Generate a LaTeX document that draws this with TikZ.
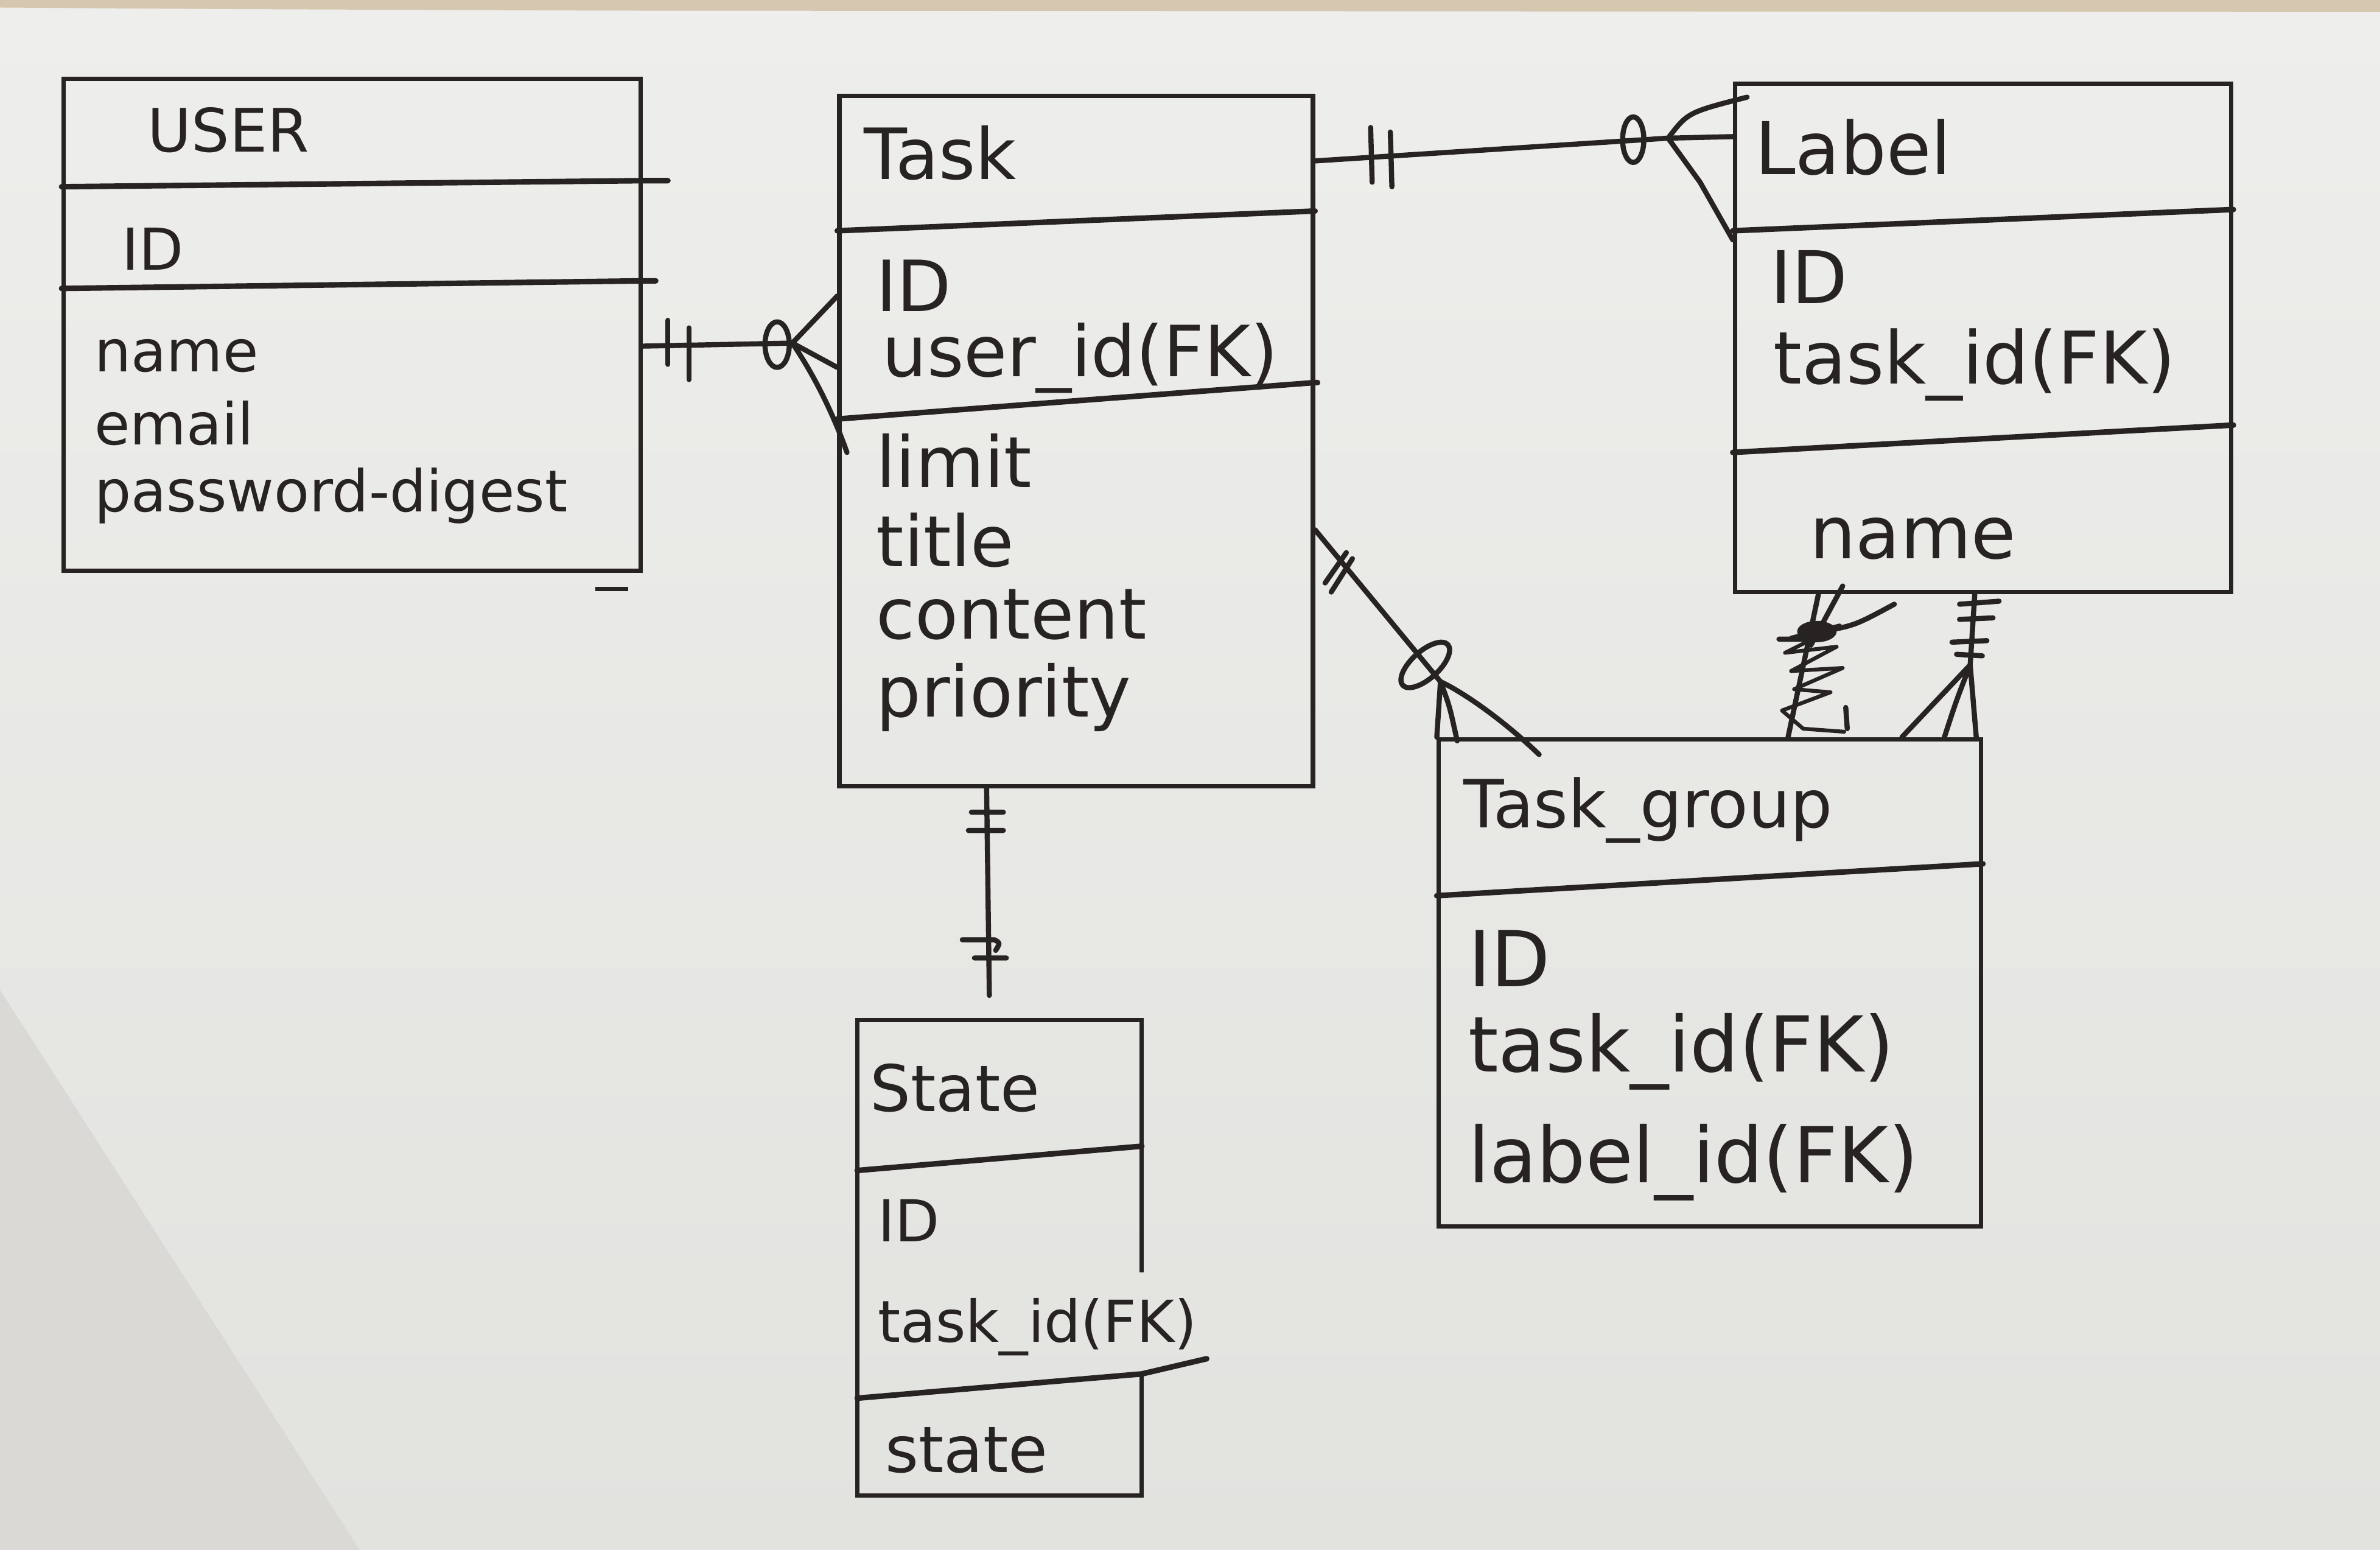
\documentclass[tikz,border=0pt]{standalone}
\usepackage{fontspec}
\setmainfont{DejaVu Sans}
\usetikzlibrary{fit}

\definecolor{ink}{RGB}{40,35,35}
\definecolor{papertop}{RGB}{238,238,236}
\definecolor{paperbottom}{RGB}{226,226,223}
\definecolor{paperfold}{RGB}{218,217,213}
\definecolor{desk}{RGB}{214,200,176}

\tikzset{
	edge/.style={draw=ink, line width=2pt},
	entity/.style={edge, inner sep=0pt},
	divider/.style={draw=ink, line width=2.6pt, line cap=round},
	field/.style={font=\fontsize{#1}{#1}\selectfont, text=ink, anchor=base west, inner sep=0pt},
	rel/.style={draw=ink, line width=2.4pt, line cap=round, line join=round},
}

\begin{document}
\begin{tikzpicture}[x=0.02494cm, y=-0.02494cm]
	% paper
	\shade[top color=papertop, bottom color=paperbottom] (0,0) rectangle (1568,1021);
	\fill[desk] (0,0) -- (1568,0) -- (1568,8) -- (400,7) -- (150,6) -- (0,5) -- cycle;
	\fill[paperfold] (0,652) -- (237,1021) -- (0,1021) -- cycle;
	\useasboundingbox (0,0) rectangle (1568,1021);

	% entities
	\node[entity, fit={(42,52) (422,376)}] (user) {};
	\node[entity, fit={(553,63) (865,518)}] (task) {};
	\node[entity, fit={(1143,55) (1470,390)}] (label) {};
	\node[entity, fit={(948,487) (1305,808)}] (taskgroup) {};
	\node[inner sep=0pt, fit={(565,672) (752,985)}] (state) {};
	\draw[edge] (state.north east |- 0,838) -- (state.north east) -- (state.north west)
		-- (state.south west) -- (state.south east) -- (state.south east |- 0,905);

	% dividers
	\draw[divider] (user.west |- 0,123) -- (user.east |- 0,119) -- (440,119);
	\draw[divider] (user.west |- 0,190) -- (user.east |- 0,185) -- (432,185);
	\draw[edge] (392,388) -- (414,388);
	\draw[divider] (task.west |- 0,152) -- (task.east |- 0,139);
	\draw[divider] (task.west |- 0,276) -- (task.east |- 0,252) -- (868,252);
	\draw[divider] (label.west |- 0,152) -- (label.east |- 0,138);
	\draw[divider] (label.west |- 0,298) -- (label.east |- 0,280);
	\draw[divider] (taskgroup.west |- 0,590) -- (taskgroup.east |- 0,569);
	\draw[divider] (state.west |- 0,771) -- (state.east |- 0,755);
	\draw[divider] (state.west |- 0,921) -- (state.east |- 0,905) -- (795,895);

	% USER
	\node[field=28] (user-title) at (97,100) {USER};
	\node[field=27] (user-id) at (80,178) {ID};
	\foreach \t/\y [count=\i] in {name/245, email/293, password-digest/337}
		\node[field=27] (user-a\i) at (62,\y) {\t};

	% Task
	\node[field=33] (task-title) at (569,118) {Task};
	\node[field=33] (task-id) at (577,205) {ID};
	\node[field=33] (task-fk) at (581,248) {user\_id(FK)};
	\foreach \t/\y [count=\i] in {limit/321, title/373, content/421, priority/472}
		\node[field=33] (task-a\i) at (577,\y) {\t};

	% Label
	\node[field=34] (label-title) at (1156,115) {Label};
	\node[field=34] (label-id) at (1166,200) {ID};
	\node[field=34] (label-fk) at (1168,253) {task\_id(FK)};
	\node[field=34] (label-a1) at (1192,368) {name};

	% Task_group
	\node[field=31] (tg-title) at (964,545) {Task\_group};
	\foreach \t/\y [count=\i] in {ID/650, task\_id(FK)/706, label\_id(FK)/779}
		\node[field=36] (tg-a\i) at (967,\y) {\t};

	% State
	\node[field=30] (state-title) at (573,732) {State};
	\node[field=27] (state-id) at (578,818) {ID};
	\node[field=27] (state-fk) at (578,884) {task\_id(FK)};
	\node[field=30] (state-a1) at (583,970) {state};

	% USER -- Task
	\coordinate (ut) at (522,226);
	\draw[rel] (user.east |- 0,228) -- (ut);
	\draw[rel] (440,211) -- (440,240) (454,216) -- (454,250);
	\draw[rel] (512,227) ellipse [x radius=8, y radius=15];
	\draw[rel] (ut) -- (task.west |- 0,195) (ut) -- (task.west |- 0,242)
		(ut) .. controls (535,245) and (548,270) .. (558,298);

	% Task -- Label
	\coordinate (tl) at (1099,91);
	\draw[rel] (task.east |- 0,106) -- (tl) -- (label.west |- 0,90);
	\draw[rel] (903,84) -- (904,120) (916,87) -- (917,123);
	\draw[rel] (1076,92) ellipse [x radius=7, y radius=15];
	\draw[rel] (tl) .. controls (1112,74) .. (1151,64) (tl) -- (1120,120) -- (label.west |- 0,158);

	% Task -- Task_group
	\coordinate (tt) at (949,449);
	\draw[rel] (task.east |- 0,349) -- (tt);
	\draw[rel] (887,364) -- (873,384) (891,368) -- (877,390);
	\draw[rel] (939,438) ellipse [x radius=20, y radius=9, rotate=42];
	\draw[rel] (tt) -- (taskgroup.north west) (tt) .. controls (955,465) .. (960,488)
		(tt) .. controls (964,456) and (990,474) .. (1014,497);

	% Label -- Task_group (scribbled)
	\draw[rel] (1198,0 |- label.south) -- (1178,0 |- taskgroup.north);
	\fill[ink] (1197,416) ellipse [x radius=13, y radius=7];
	\draw[rel, line width=1.8pt] (1180,420) -- (1212,412) -- (1176,430) -- (1210,426) -- (1180,442)
		-- (1214,440) -- (1182,454) -- (1206,456) -- (1174,468) -- (1188,480) -- (1215,482);
	\draw[rel] (1214,386) -- (1193,425) (1200,416) .. controls (1222,412) .. (1248,398)
		(1172,421) -- (1190,421) (1216,466) -- (1217,480);

	% Label -- Task_group
	\coordinate (lt) at (1298,438);
	\draw[rel] (1301,0 |- label.south) -- (lt);
	\draw[rel] (1291,398) -- (1317,396) (1291,408) -- (1313,407) (1286,423) -- (1309,422) (1289,431) -- (1306,432);
	\draw[rel] (lt) -- (1253,0 |- taskgroup.north) (lt) .. controls (1289,461) .. (1281,0 |- taskgroup.north)
		(lt) -- (1302,0 |- taskgroup.north);

	% Task -- State
	\draw[rel, shorten >=0.4cm] (650,0 |- task.south) -- (652,0 |- state.north);
	\draw[rel] (640,535) -- (661,535) (638,547) -- (661,547) (634,619) -- (655,619) .. controls (659,621) .. (656,626)
		(642,631) -- (663,631);
\end{tikzpicture}
\end{document}
